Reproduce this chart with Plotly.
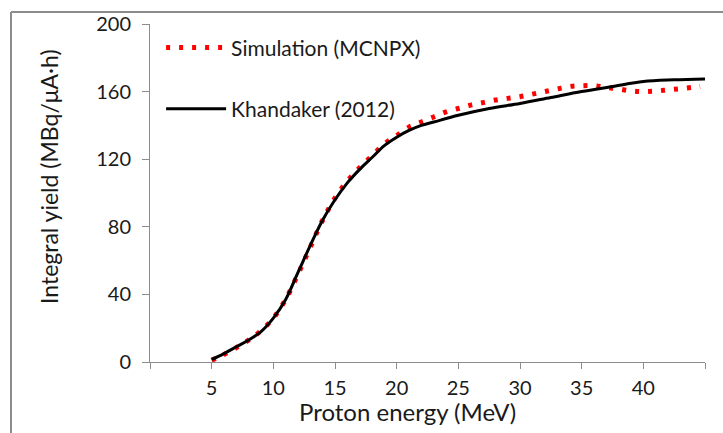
import plotly.graph_objects as go

# Data
sim_energy = [5, 6, 7, 8, 9, 10, 11, 12, 13, 14, 15, 16, 17, 18, 19, 20, 21, 22, 23, 24, 25,
              26, 27, 28, 29, 30, 31, 32, 33, 34, 35, 36, 37, 38, 39, 40, 41, 42, 43, 44, 44.6]
sim_yield = [1, 4.5, 8.5, 13, 18.5, 26, 37, 52, 68, 84, 97, 107, 115, 122, 129, 134, 139, 142, 145, 148, 150,
             152, 153.5, 155, 156, 157, 158.5, 160, 161.5, 163, 163.5, 163.5, 162.5, 161.5, 160.5, 160, 160.3, 161, 161.7, 162.5, 163]

kh_energy = [5, 6, 7, 8, 9, 10, 11, 12, 13, 14, 15, 16, 17, 18, 19, 20, 21, 22, 23, 25, 27.5, 30, 32.5, 35, 37.5, 40, 42.5, 45]
kh_yield = [1.5, 5, 9, 13, 18, 26, 37, 53, 69, 84, 96, 106, 114, 121, 128, 133, 137, 140, 142, 146, 150, 153, 156.5, 160, 163, 166, 167, 167.5]

x_ticks = [0, 5, 10, 15, 20, 25, 30, 35, 40, 45]
x_ticktext = ["", "5", "10", "15", "20", "25", "30", "35", "40", ""]
y_ticks = [0, 40, 80, 120, 160, 200]

FONT = "Lato"
AX = "#8c8c8c"
TXT = "#1a1a1a"

fig = go.Figure()
fig.add_trace(go.Scatter(
    x=sim_energy, y=sim_yield, mode="lines", name="Simulation (MCNPX)",
    line=dict(color="#ff0000", width=5, dash="4px,9px", shape="spline"),
    legendgroup="a"))
fig.add_trace(go.Scatter(
    x=kh_energy, y=kh_yield, mode="lines", name="Khandaker (2012)",
    line=dict(color="#000000", width=3, shape="spline"),
    legendgroup="b"))

fig.update_layout(
    width=723, height=433,
    margin=dict(l=150, r=18, t=24, b=71),
    paper_bgcolor="white", plot_bgcolor="white",
    font=dict(family=FONT, size=20, color=TXT),
    showlegend=True,
    legend=dict(x=0.02, y=0.99, xanchor="left", yanchor="top",
                bgcolor="rgba(0,0,0,0)", tracegroupgap=31,
                font=dict(family=FONT, size=21, color=TXT),
                itemwidth=60),
    xaxis=dict(range=[0, 45], tickvals=x_ticks, ticktext=x_ticktext,
               showgrid=False, zeroline=False, showline=True, linecolor=AX, linewidth=1,
               ticks="outside", ticklen=6, tickcolor=AX, tickwidth=1, ticklabelstandoff=2,
               tickfont=dict(family=FONT, size=20, color=TXT)),
    yaxis=dict(range=[0, 200], tickvals=y_ticks,
               showgrid=False, zeroline=False, showline=True, linecolor=AX, linewidth=1,
               ticks="outside", ticklen=7, tickcolor=AX, tickwidth=1, ticklabelstandoff=7,
               tickfont=dict(family=FONT, size=20, color=TXT)),
    annotations=[
        dict(text="Proton energy (MeV)", xref="paper", yref="paper",
             x=(407.5 - 150) / 555, y=-(411 - 362) / 338, xanchor="center", yanchor="middle",
             showarrow=False, font=dict(family=FONT, size=24, color=TXT)),
        dict(text="Integral yield (MBq/\u03bcA\u00b7h)", xref="paper", yref="paper",
             x=-(150 - 49) / 555, y=1 - (177 - 24) / 338, xanchor="center", yanchor="middle",
             textangle=-90, showarrow=False, font=dict(family=FONT, size=23, color=TXT)),
    ],
    shapes=[
        dict(type="line", xref="paper", yref="paper",
             x0=-(150 - 11) / 555, x1=-(150 - 11) / 555, y0=-0.5, y1=1 + (24 - 12) / 338,
             line=dict(color=AX, width=2)),
        dict(type="line", xref="paper", yref="paper",
             x0=-(150 - 11) / 555, x1=1.2, y0=1 + (24 - 12) / 338, y1=1 + (24 - 12) / 338,
             line=dict(color=AX, width=2)),
    ],
)

fig.write_html("out.html")
